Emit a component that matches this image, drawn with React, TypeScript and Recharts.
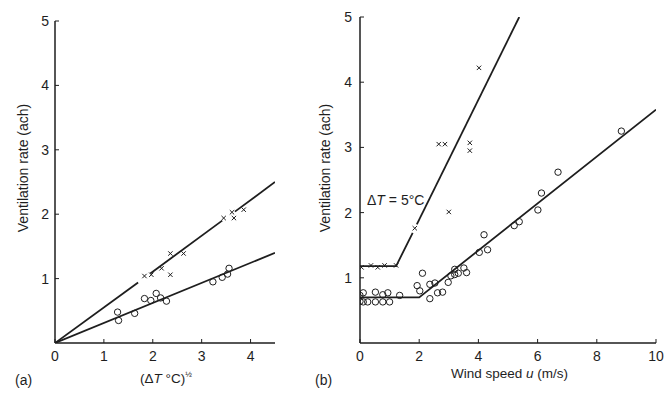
// Two-panel ventilation rate figure: (a) vs sqrt(dT), (b) vs wind speed
import { Scatter, ScatterChart, XAxis, YAxis } from "recharts";

const FONT = '"Liberation Sans", Arial, Helvetica, sans-serif';
const INK = "#1e1e1e";

// panel (a): x = (dT °C)^1/2, y = ach
const aXTicks = [0, 1, 2, 3, 4];
const aYTicks = [1, 2, 3, 4, 5];
const aCrosses = [
  [1.83, 1.04], [1.97, 1.06], [2.18, 1.16], [2.36, 1.39], [2.36, 1.06],
  [2.63, 1.39], [3.45, 1.94], [3.62, 2.03], [3.66, 1.94], [3.86, 2.07],
];
const aCircles = [
  [1.28, 0.48], [1.3, 0.35], [1.63, 0.46], [1.83, 0.69], [1.96, 0.66],
  [2.07, 0.77], [2.16, 0.7], [2.28, 0.65], [3.23, 0.95], [3.42, 1.02],
  [3.53, 1.07], [3.56, 1.16],
];
// fitted lines (upper one is broken where the marks sit)
const aUpperFit = [
  [[0, 0], [1.7, 0.94]],
  [[1.95, 1.08], [3.42, 1.9]],
  [[3.68, 2.04], [4.5, 2.5]],
];
const aLowerFit = [[0, 0], [4.5, 1.4]];

// panel (b): x = wind speed u (m/s), y = ach
const bXTicks = [0, 2, 4, 6, 8, 10];
const bYTicks = [1, 2, 3, 4, 5];
const bCrosses = [
  [0.05, 1.16], [0.37, 1.19], [0.6, 1.16], [0.83, 1.19], [1.22, 1.19],
  [1.85, 1.76], [2.66, 3.05], [2.87, 3.05], [3.0, 2.01], [3.71, 3.07],
  [3.71, 2.95], [4.02, 4.22],
];
const bCircles = [
  [0, 0.73], [0, 0.64], [0.11, 0.77], [0.11, 0.63], [0.26, 0.63],
  [0.52, 0.78], [0.52, 0.63], [0.77, 0.74], [0.77, 0.63], [0.94, 0.77],
  [1.0, 0.63], [1.34, 0.73], [1.93, 0.88], [2.02, 0.8], [2.11, 1.07],
  [2.36, 0.68], [2.36, 0.9], [2.53, 0.92], [2.62, 0.77], [2.79, 0.78],
  [2.98, 0.93], [3.07, 1.03], [3.2, 1.05], [3.2, 1.13], [3.32, 1.07],
  [3.51, 1.15], [3.6, 1.08], [4.03, 1.39], [4.19, 1.66], [4.31, 1.43],
  [5.21, 1.8], [5.38, 1.86], [6.01, 2.04], [6.13, 2.3], [6.69, 2.62],
  [8.83, 3.25],
];
const bUpperFit = [
  [[0, 1.18], [1.22, 1.18], [1.78, 1.69]],
  [[1.92, 1.82], [5.38, 5.0]],
];
const bLowerFit = [[0, 0.7], [2.0, 0.7], [10, 3.58]];

const pts = (arr: number[][]) => arr.map(([x, y]) => ({ x, y }));

function Circle(p: any) {
  if (p.cx == null || p.cy == null) return <g />;
  return <circle cx={p.cx} cy={p.cy} r={3.2} fill="none" stroke={INK} strokeWidth={1} />;
}

function Cross(p: any) {
  if (p.cx == null || p.cy == null) return <g />;
  const s = 2.2;
  const { cx, cy } = p;
  return (
    <path
      d={`M${cx - s},${cy - s}L${cx + s},${cy + s}M${cx - s},${cy + s}L${cx + s},${cy - s}`}
      stroke={INK}
      strokeWidth={1}
      fill="none"
    />
  );
}

const noDot = () => <g />;
const fitLine = { stroke: INK, strokeWidth: 1.8 };
const tickStyle = { fontSize: 14, fill: INK, fontFamily: FONT };
const axisProps = {
  type: "number" as const,
  stroke: INK,
  axisLine: { stroke: INK, strokeWidth: 1.5 },
  tickLine: { stroke: INK, strokeWidth: 1 },
  tick: tickStyle,
  tickSize: -4,
  allowDataOverflow: true,
};

const textBase: React.CSSProperties = {
  position: "absolute",
  fontFamily: FONT,
  color: INK,
  whiteSpace: "nowrap",
  lineHeight: 1,
};

function YTitle({ cx, cy }: { cx: number; cy: number }) {
  return (
    <div
      style={{
        ...textBase,
        fontSize: 14,
        left: cx,
        top: cy,
        transform: "translate(-50%, -50%) rotate(-90deg)",
      }}
    >
      Ventilation rate (ach)
    </div>
  );
}

export default function App() {
  return (
    <div style={{ position: "absolute", left: 0, top: 0, width: 671, height: 396, background: "#fff" }}>
      <div style={{ position: "absolute", left: 0, top: 0 }}>
        <ScatterChart width={300} height={396} margin={{ top: 21, right: 25, bottom: 23, left: 0 }}>
          <XAxis {...axisProps} dataKey="x" domain={[0, 4.5]} ticks={aXTicks} height={30} tickMargin={12} />
          <YAxis {...axisProps} dataKey="y" domain={[0, 5]} ticks={aYTicks} width={55} tickMargin={10} />
          {aUpperFit.map((seg, i) => (
            <Scatter key={"au" + i} data={pts(seg)} line={fitLine} shape={noDot} isAnimationActive={false} />
          ))}
          <Scatter data={pts(aLowerFit)} line={fitLine} shape={noDot} isAnimationActive={false} />
          <Scatter data={pts(aCrosses)} shape={Cross} isAnimationActive={false} />
          <Scatter data={pts(aCircles)} shape={Circle} isAnimationActive={false} />
        </ScatterChart>
      </div>
      <div style={{ position: "absolute", left: 300, top: 0 }}>
        <ScatterChart width={371} height={396} margin={{ top: 17, right: 15, bottom: 23, left: 0 }}>
          <XAxis {...axisProps} dataKey="x" domain={[0, 10]} ticks={bXTicks} height={30} tickMargin={12} />
          <YAxis {...axisProps} dataKey="y" domain={[0, 5]} ticks={bYTicks} width={60} tickMargin={12} />
          {bUpperFit.map((seg, i) => (
            <Scatter key={"bu" + i} data={pts(seg)} line={fitLine} shape={noDot} isAnimationActive={false} />
          ))}
          <Scatter data={pts(bLowerFit)} line={fitLine} shape={noDot} isAnimationActive={false} />
          <Scatter data={pts(bCrosses)} shape={Cross} isAnimationActive={false} />
          <Scatter data={pts(bCircles)} shape={Circle} isAnimationActive={false} />
        </ScatterChart>
      </div>

      <YTitle cx={23} cy={168} />
      <YTitle cx={325} cy={168} />

      <div style={{ ...textBase, fontSize: 13.5, left: 140, top: 371 }}>
        (Δ<i>T</i> °C)<sup style={{ fontSize: 8 }}>½</sup>
      </div>
      <div style={{ ...textBase, fontSize: 13.5, left: 451, top: 367 }}>
        Wind speed <i>u</i> (m/s)
      </div>
      <div style={{ ...textBase, fontSize: 14, left: 15, top: 373 }}>(a)</div>
      <div style={{ ...textBase, fontSize: 14, left: 315, top: 373 }}>(b)</div>
      <div style={{ ...textBase, fontSize: 14, left: 367, top: 193 }}>
        Δ<i>T</i> = 5°C
      </div>
    </div>
  );
}
